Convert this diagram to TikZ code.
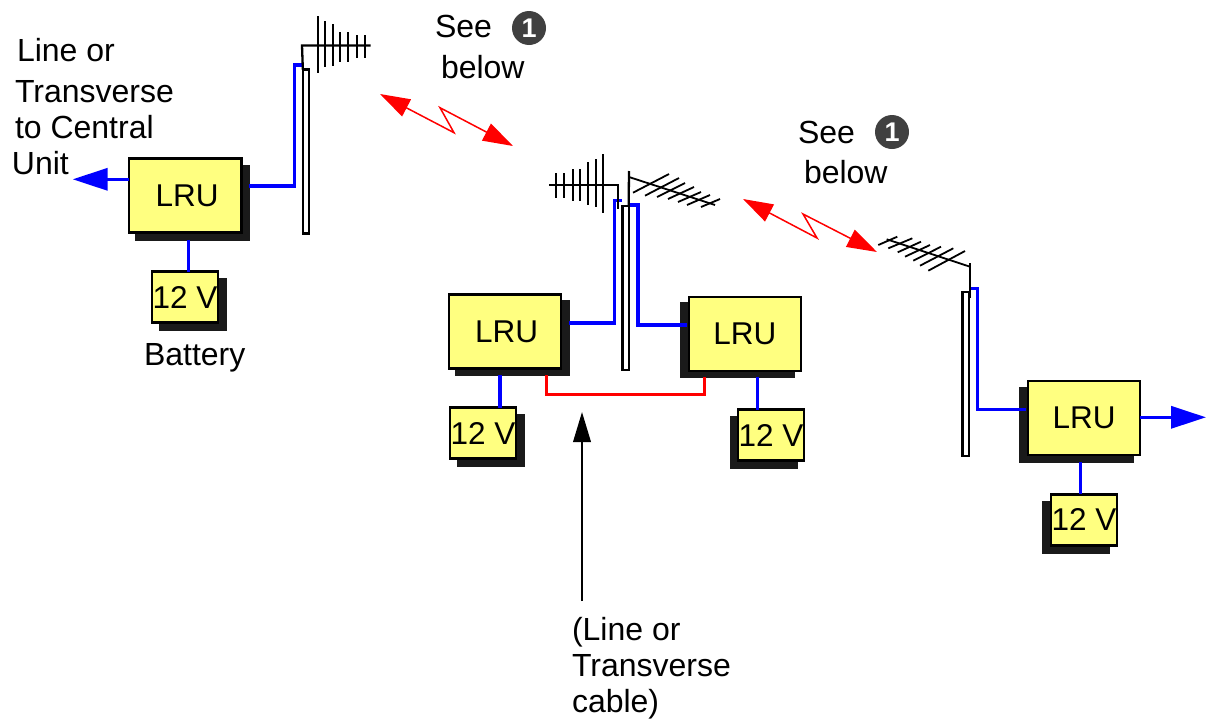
\documentclass[tikz,border=0pt]{standalone}
\usepackage{fontspec}
\setmainfont{Liberation Sans}
\usetikzlibrary{arrows.meta}
\definecolor{boxyellow}{HTML}{FFFF80}
\definecolor{shadowgrey}{HTML}{1A1A1A}
\definecolor{badgegrey}{HTML}{404040}
\definecolor{wireblue}{HTML}{0000FF}
\definecolor{linkred}{HTML}{FF0000}
\tikzset{
  every node/.style={inner sep=0pt,outer sep=0pt},
  boxbase/.style={draw=black,fill=boxyellow,line width=2.3pt,font=\fontsize{31.5}{36}\selectfont},
  lrubox/.style={boxbase,minimum width=112.5pt,minimum height=74pt},
  lrunudge/.style={execute at begin node={\hspace*{3.5pt}}},
  batbox/.style={boxbase,minimum width=66.5pt,minimum height=51pt},
  lrushadow/.style={draw=shadowgrey,fill=shadowgrey,line width=2pt,minimum width=112.5pt,minimum height=74pt},
  batshadow/.style={draw=shadowgrey,fill=shadowgrey,line width=2pt,minimum width=66.5pt,minimum height=51pt},
  mastbox/.style={draw=black,fill=white,line width=2.3pt,minimum width=6.3pt,minimum height=164pt},
  wire/.style={draw=wireblue,line width=3.4pt,miter limit=10},
  feed/.style={wire,-{Triangle[length=35pt,width=22pt]}},
  bolt/.style={draw=linkred,line width=1.5pt,miter limit=20,{Triangle[length=30pt,width=19pt]}-{Triangle[length=30pt,width=19pt]}},
  tie/.style={draw=linkred,line width=3.2pt},
  pointer/.style={draw=black,line width=2.2pt,-{Triangle[length=30pt,width=17.5pt]}},
  ant/.style={draw=black,line width=2.3pt},
  antthin/.style={draw=black,line width=1.8pt},
  caption/.style={font=\fontsize{32}{36}\selectfont,align=left,anchor=north west},
  badge/.style={circle,fill=badgegrey,minimum size=34pt,text=white,font=\fontsize{27}{27}\selectfont\bfseries}
}
\begin{document}
\begin{tikzpicture}[x=1pt,y=-1pt]
\useasboundingbox (0,0) rectangle (1206,718);

% shadows
\node[lrushadow] (s1) at (192.3,202.5) {};
\node[batshadow] (t1) at (193,304.5) {};
\node[lrushadow] (s2) at (512.4,338.4) {};
\node[batshadow] (t2) at (490.9,440.5) {};
\node[lrushadow] (s3) at (737.7,340.3) {};
\node[batshadow] (t3) at (764.2,442.5) {};
\node[lrushadow] (s4) at (1076.5,425) {};
\node[batshadow] (t4) at (1076,527) {};

% boxes
\node[lrubox,lrunudge] (lru1) at (185.3,195.5) {LRU};
\node[batbox] (bat1) at (185,297) {12 V};
\node[lrubox,lrunudge] (lru2) at (504.9,331.5) {LRU};
\node[batbox] (bat2) at (482.9,433) {12 V};
\node[lrubox] (lru3) at (744.9,333.7) {LRU};
\node[batbox] (bat3) at (770.9,435) {12 V};
\node[lrubox] (lru4) at (1084,418) {LRU};
\node[batbox] (bat4) at (1084,519.9) {12 V};

% junctions and free ends
\coordinate (w1) at (294.5,186);
\coordinate (e1) at (303,65);
\coordinate (out1) at (72.7,179.3);
\coordinate (x1) at (188.3,0);
\coordinate (w2) at (614.7,323);
\coordinate (e2) at (622,200.7);
\coordinate (w3) at (638,325);
\coordinate (e3) at (629,205);
\coordinate (x2) at (500,0);
\coordinate (x3) at (757.3,0);
\coordinate (w4) at (977.7,409.3);
\coordinate (e4) at (969,288.3);
\coordinate (out4) at (1206,417.3);
\coordinate (x4) at (1080.3,0);
\coordinate (ra) at (546.7,394.3);
\coordinate (rb) at (704.3,394.3);

% blue wiring
\draw[wire] (w1 -| s1.east) -- (w1) -- (w1 |- e1) -- (e1);
\draw[feed] (out1 -| lru1.west) -- (out1);
\draw[wire] (s1.south -| x1) -- (bat1.north -| x1);
\draw[wire] (w2 -| s2.east) -- (w2) -- (w2 |- e2) -- (e2);
\draw[wire,shorten >=2pt] (e3) -- (e3 -| w3) -- (w3) -- (w3 -| lru3.west);
\draw[wire] (s2.south -| x2) -- (bat2.north -| x2);
\draw[wire] (s3.south -| x3) -- (bat3.north -| x3);
\draw[wire,shorten >=2pt] (e4) -- (e4 -| w4) -- (w4) -- (w4 -| lru4.west);
\draw[feed] (out4 -| lru4.east) -- (out4);
\draw[wire] (s4.south -| x4) -- (bat4.north -| x4);

% red line cable
\draw[tie] (ra |- s2.south) -- (ra) -- (rb) -- (rb |- s3.south);

% masts
\node[mastbox] (mast1) at (306,151.5) {};
\node[mastbox] (mast2) at (625.5,288) {};
\node[mastbox] (mast3) at (965.5,373.8) {};

% antenna 1
\draw[ant] (mast1.north west) -- (302,45.5) -- (370.7,45.5);
\foreach \x/\a/\b in {318/16/73,325/21/67,332.7/24/66,340/32/62,348/32/62,357/35/58,365/35/58}
  \draw[ant] (\x,\a) -- (\x,\b);

% antenna 2, left
\draw[ant] (549,185) -- (618,185) -- (618,208.7);
\foreach \x/\a/\b in {556/173/198,564/173/198,573/169/201,580/169/201,588/162/205,596/159/207,603/154/213}
  \draw[ant] (\x,\a) -- (\x,\b);

% antenna 2, right
\draw[ant] (mast2.north east) -- (629,171);
\draw[antthin] (629,177) -- (715,205);
\draw[antthin] (633,192.7) -- (669,174);
\draw[antthin] (645,195.7) -- (679,178);
\draw[antthin] (657,197) -- (685,183);
\draw[antthin] (668,199) -- (694,187);
\draw[antthin] (678,202) -- (701,192);
\draw[antthin] (687,205) -- (710,195);
\draw[antthin] (701,207) -- (720,199);

% antenna 3
\draw[ant] (970,263) -- (970,298);
\draw[antthin] (970,266.7) -- (886.7,239.3);
\draw[antthin] (878.3,245) -- (897.3,236.7);
\draw[antthin] (888.3,248.3) -- (912.3,238.3);
\draw[antthin] (897.7,252.3) -- (921,241.7);
\draw[antthin] (905,256.7) -- (930,245);
\draw[antthin] (913.3,260.7) -- (941,246.7);
\draw[antthin] (920,265.7) -- (953.3,248.3);
\draw[antthin] (928.3,270.7) -- (965,251);

% radio links
\coordinate (a1) at (380,94);
\coordinate (a2) at (454,132.7);
\coordinate (a3) at (440,107.7);
\coordinate (a4) at (513,146);
\draw[bolt] (a1) -- (a2) -- (a3) -- (a4);
\coordinate (b1) at (743,199);
\coordinate (b2) at (817,238);
\coordinate (b3) at (803,214);
\coordinate (b4) at (877,252);
\draw[bolt] (b1) -- (b2) -- (b3) -- (b4);

% line or transverse pointer
\coordinate (p1) at (582,601);
\coordinate (p2) at (582,412);
\draw[pointer] (p1) -- (p2);

% texts
\node[caption] (lab1) at (15,38.5) {\hspace*{2pt}Line or\\[5pt]Transverse\\to Central\\\hspace*{-3pt}Unit};
\node[caption] (see1) at (435,15.5) {See};
\node[caption] (below1) at (441,55.5) {below};
\node[badge] (one1) at (529,28) {1};
\node[caption] (see2) at (798,121.5) {See};
\node[caption] (below2) at (804,160) {below};
\node[badge] (one2) at (892,132) {1};
\node[caption] (batlab) at (144,343.5) {Battery};
\node[caption] (cable) at (572,617) {(Line or\\Transverse\\cable)};
\end{tikzpicture}
\end{document}
